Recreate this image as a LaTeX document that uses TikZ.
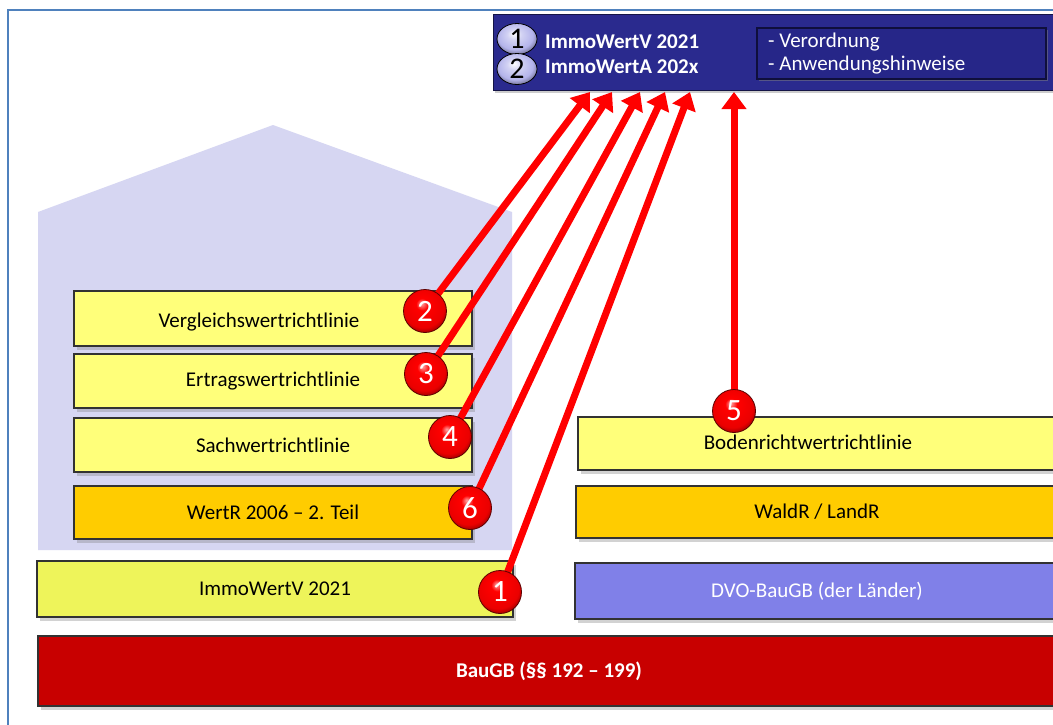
\documentclass[tikz,border=0pt]{standalone}
\usepackage{fontspec}
\setmainfont{Carlito}
\usetikzlibrary{arrows.meta,shadows,shapes.geometric}
\definecolor{frameblue}{RGB}{79,129,189}
\definecolor{house}{RGB}{214,214,242}
\definecolor{yel}{RGB}{255,255,122}
\definecolor{yelgreen}{RGB}{238,244,90}
\definecolor{orng}{RGB}{255,204,0}
\definecolor{dvo}{RGB}{128,128,232}
\definecolor{baured}{RGB}{200,0,0}
\definecolor{topblue}{RGB}{42,42,142}
\definecolor{innerblue}{RGB}{38,38,136}
\definecolor{lav}{RGB}{180,180,235}
\pgfdeclareradialshading{redglass}{\pgfpoint{-4bp}{9bp}}{%
  color(0bp)=(red!35!white); color(7bp)=(red); color(24bp)=(red!92!black);
  color(31bp)=(red!55!black); color(50bp)=(red!45!black)}
\pgfdeclareradialshading{lavglass}{\pgfpoint{-4bp}{9bp}}{%
  color(0bp)=(white); color(9bp)=(lav!60!white); color(22bp)=(lav);
  color(31bp)=(lav!55!black); color(50bp)=(lav!40!black)}
\tikzset{
  bar/.style={rectangle, draw={rgb,255:red,50;green,50;blue,50}, line width=1.3pt,
    inner sep=0pt, font=\fontsize{21}{24}\selectfont,
    drop shadow={shadow xshift=3pt, shadow yshift=-4pt, opacity=.35}},
  bartext/.style={font=\fontsize{21}{24}\selectfont, inner sep=0pt},
  redball/.style={circle, minimum size=43pt, inner sep=0pt, shading=redglass,
    draw={rgb,255:red,90;green,0;blue,0}, line width=0.8pt, text=white,
    font=\fontsize{31}{32}\selectfont},
  lavball/.style={ellipse, minimum width=40pt, minimum height=31pt, inner sep=0pt,
    shading=lavglass, draw=black, line width=0.8pt, text=black,
    font=\fontsize{30}{30}\selectfont},
  link/.style={draw=red, line width=7pt, -{Triangle[width=24pt,length=17pt]}},
  toptext/.style={anchor=west, text=white, font=\bfseries\fontsize{21}{24}\selectfont, inner sep=0pt},
  innertext/.style={anchor=west, text=white, font=\fontsize{21}{24}\selectfont, inner sep=0pt}
}
\begin{document}
\begin{tikzpicture}[x=1pt,y=-1pt]
\useasboundingbox (0,0) rectangle (1053,724);
\fill[white] (0,0) rectangle (1053,724);
% frame
\draw[frameblue, line width=2.5pt] (8,730) -- (8,10) -- (1060,10);
% house
\fill[house] (38,550) -- (38,212) -- (273,125) -- (512,212) -- (512,550) -- cycle;
% left bars
\node[bar, fill=yel, minimum width=398pt, minimum height=55pt] (vgl) at (273,318.5) {};
\node[bartext] (vgltext) at (259,322) {Vergleichswertrichtlinie};
\node[bar, fill=yel, minimum width=398pt, minimum height=54pt] (ertr) at (273,381) {Ertragswertrichtlinie};
\node[bar, fill=yel, minimum width=398pt, minimum height=54pt] (sach) at (273,445) {Sachwertrichtlinie};
\node[bar, fill=orng, minimum width=398pt, minimum height=53pt] (wertr) at (273,512.5) {WertR 2006 – 2. Teil};
\node[bar, fill=yelgreen, minimum width=476pt, minimum height=56pt] (immo) at (275,589) {ImmoWertV 2021};
% right bars
\node[bar, fill=yel, minimum width=480pt, minimum height=53pt] (boden) at (818,443.5) {};
\node[bartext] (bodentext) at (808,442) {Bodenrichtwertrichtlinie};
\node[bar, fill=orng, minimum width=482pt, minimum height=52pt] (wald) at (817,512) {WaldR / LandR};
\node[bar, fill=dvo, text=white, minimum width=484pt, minimum height=56pt] (dvo) at (817,591) {DVO-BauGB (der Länder)};
% BauGB
\node[bar, fill=baured, text=white, font=\bfseries\fontsize{21}{24}\selectfont, minimum width=1022pt, minimum height=70pt] (baugb) at (549,671) {BauGB (§§ 192 – 199)};
% top box
\node[rectangle, fill=topblue, draw={rgb,255:red,20;green,20;blue,70}, line width=1pt,
  minimum width=570pt, minimum height=76pt, inner sep=0pt,
  drop shadow={shadow xshift=2pt, shadow yshift=-3pt, opacity=.4}] (top) at (778,52) {};
\node[rectangle, fill=innerblue, draw={rgb,255:red,15;green,15;blue,60}, line width=1.5pt,
  minimum width=289pt, minimum height=51pt, inner sep=0pt,
  drop shadow={shadow xshift=2pt, shadow yshift=-2pt, opacity=.5}] (inner) at (901.5,53.5) {};
\node[innertext] (verord) at (768,42) {- Verordnung};
\node[innertext] (anw) at (768,65) {- Anwendungshinweise};
\node[lavball] (t1) at (517,39) {1};
\node[lavball] (t2) at (517,69) {2};
\node[toptext] (l1) at (545,42) {ImmoWertV 2021};
\node[toptext] (l2) at (545,67) {ImmoWertA 202x};
% arrow targets
\coordinate (e2) at (590,92);
\coordinate (e3) at (612,92);
\coordinate (e4) at (640,92);
\coordinate (e6) at (665,92);
\coordinate (e1) at (690,92);
\coordinate (e5) at (734,92);
% red balls positions
\coordinate (p2) at (425,311);
\coordinate (p3) at (426,374);
\coordinate (p4) at (450,437);
\coordinate (p6) at (470,508);
\coordinate (p1) at (500,592);
\coordinate (p5) at (734,411);
% arrows
\draw[link] (p2) -- (e2);
\draw[link] (p3) -- (e3);
\draw[link] (p4) -- (e4);
\draw[link] (p6) -- (e6);
\draw[link] (p1) -- (e1);
\draw[link] (p5) -- (e5);
% balls
\node[redball] (b2) at (p2) {2};
\node[redball] (b3) at (p3) {3};
\node[redball] (b4) at (p4) {4};
\node[redball] (b6) at (p6) {6};
\node[redball] (b1) at (p1) {1};
\node[redball] (b5) at (p5) {5};
\end{tikzpicture}
\end{document}
